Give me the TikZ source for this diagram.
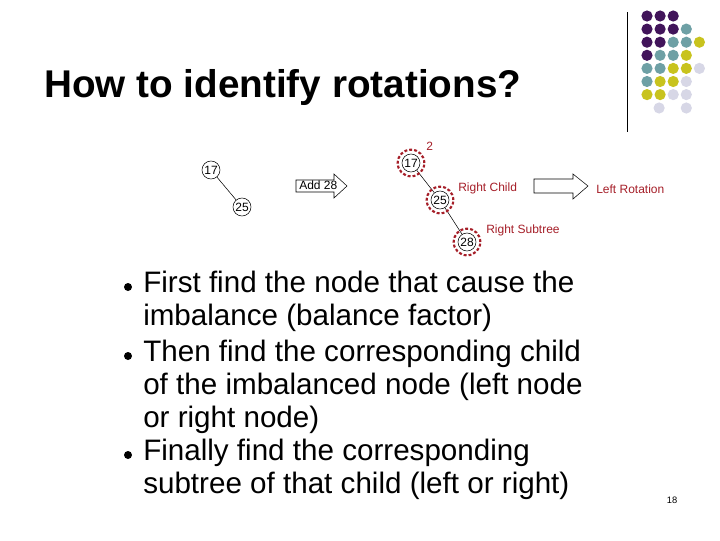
\documentclass[tikz,border=0pt]{standalone}
\usepackage{fontspec}
\setmainfont{Liberation Sans}
\definecolor{pu}{RGB}{65,20,90}
\definecolor{te}{RGB}{110,160,165}
\definecolor{ye}{RGB}{200,195,30}
\definecolor{li}{RGB}{215,215,230}
\definecolor{rd}{RGB}{165,30,40}
\tikzset{tn/.style={circle,draw,thin,inner sep=0pt,minimum size=13.5pt,font=\fontsize{9}{10}\selectfont},
hl/.style={circle,draw=rd,dashed,line width=1.6pt,dash pattern=on 2.2pt off 1.5pt,minimum size=20pt,inner sep=0pt},
rl/.style={text=rd,font=\fontsize{9}{10}\selectfont,anchor=west,inner sep=0pt},
bt/.style={font=\fontsize{22.2}{24.75}\selectfont,anchor=north west,align=left,inner sep=0pt}}
\begin{document}
\begin{tikzpicture}[x=0.75pt,y=-0.75pt]
\path[use as bounding box] (0,0) rectangle (720,540);
\draw[thin] (627,12) coordinate (la) -- (627,132) coordinate (lb);
\foreach \r/\cols in {0/{pu,pu,pu},1/{pu,pu,pu,te},2/{pu,pu,te,te,ye},3/{pu,te,te,ye},4/{te,te,ye,ye,li},5/{te,ye,ye,li},6/{ye,ye,li,li}}{
 \foreach \c [count=\i from 0] in \cols { \fill[\c] (647+13.1*\i,16+13.1*\r) circle (5.6); } }
\fill[li] (659.1,108) circle (5.6); \fill[li] (686.3,108) circle (5.6);
\node[anchor=west,font=\bfseries\fontsize{29}{32}\selectfont,inner sep=0pt] (title) at (44,87) {How to identify rotations?};
% first tree
\node[tn] (a17) at (211,170) {17};
\node[tn] (a25) at (242,207) {25};
\draw (a17) -- (a25);
\draw[thin] (296,180) -- (334,180) -- (334,174) -- (347,186) -- (334,198) -- (334,192) -- (296,192) -- cycle;
\node[anchor=west,inner sep=0pt,font=\fontsize{9}{10}\selectfont] (add) at (299,185.5) {Add 28};
% second tree
\node[tn] (b17) at (411,163) {17};
\node[tn] (b25) at (440,200) {25};
\node[tn] (b28) at (467,242) {28};
\draw (b17) -- (b25) (b25) -- (b28);
\node[hl] (h17) at (411,163) {};
\node[hl] (h25) at (440,200) {};
\node[hl] (h28) at (467,242) {};
\node[rl] (two) at (426,146) {2};
\node[rl] (rc) at (458,188) {Right Child};
\node[rl] (lr) at (596,189) {Left Rotation};
\node[rl] (rs) at (486,230) {Right Subtree};
\draw[thin] (534,179) -- (573,179) -- (573,174) -- (588,186) -- (573,199) -- (573,193) -- (534,193) -- cycle;
% bullets
\foreach \y/\n in {287/b1,356/b2,455/b3}{\fill (128,\y) circle (4) coordinate (\n);}
\node[bt] (t1) at (143,271) {First find the node that cause the\\imbalance (balance factor)};
\node[bt] (t2) at (143,340) {Then find the corresponding child\\of the imbalanced node (left node\\or right node)};
\node[bt] (t3) at (143,439) {Finally find the corresponding\\subtree of that child (left or right)};
\node[font=\fontsize{7}{8}\selectfont] (pg) at (672,500) {18};
\end{tikzpicture}
\end{document}
